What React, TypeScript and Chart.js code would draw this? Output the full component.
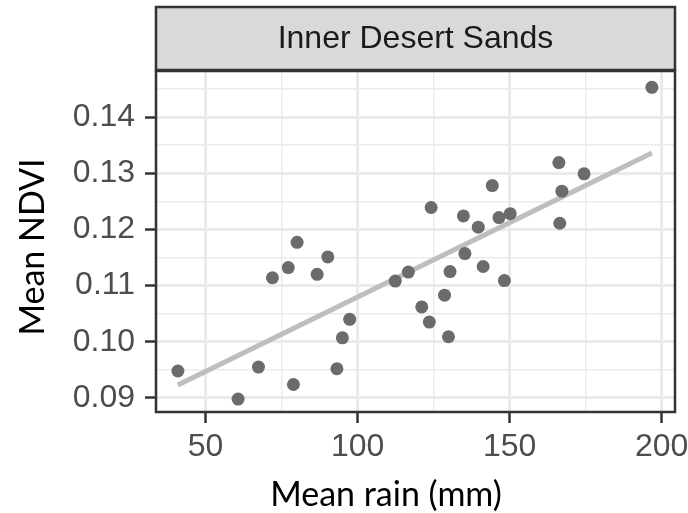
import React, { useEffect, useRef } from 'react';
import { Chart, registerables } from 'chart.js';

Chart.register(...registerables);

const panelTitle = 'Inner Desert Sands';
const xTitle = 'Mean rain (mm)';
const yTitle = 'Mean NDVI';

const rain = [40.9, 60.7, 67.4, 78.9, 72.0, 77.2, 80.1, 86.7, 90.2, 93.2, 95.0, 97.4, 112.4, 116.7, 121.1, 123.6, 124.2, 128.6, 129.9, 130.4, 134.8, 135.3, 139.7, 141.3, 144.3, 146.5, 148.3, 150.2, 166.2, 167.2, 166.5, 174.5, 196.8];
const ndvi = [0.0948, 0.0898, 0.0955, 0.0924, 0.1114, 0.1132, 0.1177, 0.1120, 0.1151, 0.0952, 0.1007, 0.1040, 0.1108, 0.1124, 0.1062, 0.1035, 0.1239, 0.1083, 0.1009, 0.1125, 0.1224, 0.1157, 0.1204, 0.1134, 0.1278, 0.1221, 0.1109, 0.1228, 0.1319, 0.1268, 0.1211, 0.1299, 0.1453];

const fitRain = [40.9, 196.8];
const fitNdvi = [0.0923, 0.1336];

const xMajorTicks = [50, 100, 150, 200];
const xMinorTicks = [75, 125, 175];
const yMajorTicks = [0.09, 0.1, 0.11, 0.12, 0.13, 0.14];
const yMinorTicks = [0.095, 0.105, 0.115, 0.125, 0.135, 0.145];
const xRange = [33.7, 204.4];
const yRange = [0.0875, 0.1482];

const isIn = (arr: number[], v: number) => arr.some((m) => Math.abs(m - v) < 1e-9);

const facetPlugin = {
  id: 'facetDecor',
  afterDraw(chart: any) {
    const { ctx, chartArea: a } = chart;
    ctx.save();
    const dark = '#333333';
    ctx.lineWidth = 2.5;
    ctx.strokeStyle = dark;
    ctx.strokeRect(a.left, a.top, a.right - a.left, a.bottom - a.top);
    const stripTop = 7;
    const stripBottom = a.top - 1;
    ctx.fillStyle = '#D9D9D9';
    ctx.fillRect(a.left, stripTop, a.right - a.left, stripBottom - stripTop);
    ctx.strokeRect(a.left, stripTop, a.right - a.left, stripBottom - stripTop);
    ctx.fillStyle = '#1A1A1A';
    ctx.font = '32px "Liberation Sans", Arial, sans-serif';
    ctx.textAlign = 'center';
    ctx.textBaseline = 'middle';
    ctx.fillText(panelTitle, (a.left + a.right) / 2, (stripTop + stripBottom) / 2 + 1);

    ctx.fillStyle = '#000000';
    ctx.font = '34px Lato, "Open Sans", sans-serif';
    ctx.fillText(xTitle, 386, 495);
    ctx.translate(33, 247);
    ctx.rotate(-Math.PI / 2);
    ctx.fillText(yTitle, 0, 0);
    ctx.restore();
  },
};

export default function App() {
  const ref = useRef<HTMLCanvasElement | null>(null);
  useEffect(() => {
    document.body.style.margin = '0';
    const canvas = ref.current;
    if (!canvas) return;
    const tickFont = { family: '"Liberation Sans", Arial, sans-serif', size: 32 };
    const chart = new Chart(canvas, {
      type: 'scatter',
      data: {
        datasets: [
          {
            data: rain.map((x, i) => ({ x, y: ndvi[i] })),
            pointRadius: 6.5,
            pointBackgroundColor: '#6B6B6B',
            pointBorderWidth: 0,
            pointHoverRadius: 6.5,
            order: 0,
          },
          {
            type: 'line',
            data: fitRain.map((x, i) => ({ x, y: fitNdvi[i] })),
            borderColor: '#BEBEBE',
            borderWidth: 5,
            pointRadius: 0,
            showLine: true,
            fill: false,
            order: 1,
          } as any,
        ],
      },
      options: {
        responsive: false,
        animation: false,
        devicePixelRatio: 1,
        events: [],
        layout: { padding: { top: 71, right: 13, left: 0, bottom: 0 } },
        plugins: { legend: { display: false }, tooltip: { enabled: false }, title: { display: false } },
        scales: {
          x: {
            type: 'linear',
            min: xRange[0],
            max: xRange[1],
            afterBuildTicks: (s: any) => {
              s.ticks = [...xMajorTicks, ...xMinorTicks].sort((p, q) => p - q).map((v) => ({ value: v }));
            },
            afterFit: (s: any) => {
              s.height = 101;
              s.paddingLeft = 0;
              s.paddingRight = 0;
            },
            ticks: {
              autoSkip: false,
              maxRotation: 0,
              padding: 5,
              color: '#4D4D4D',
              font: tickFont,
              callback: (v: any) => (isIn(xMajorTicks, v) ? String(v) : ''),
            },
            grid: {
              color: '#EBEBEB',
              lineWidth: (c: any) => (isIn(xMajorTicks, c.tick?.value) ? 3 : 1.4),
              tickColor: (c: any) => (isIn(xMajorTicks, c.tick?.value) ? '#333333' : 'rgba(0,0,0,0)'),
              tickLength: 11,
              tickWidth: 2.5,
            },
            border: { display: false },
          },
          y: {
            type: 'linear',
            min: yRange[0],
            max: yRange[1],
            afterBuildTicks: (s: any) => {
              s.ticks = [...yMajorTicks, ...yMinorTicks].sort((p, q) => p - q).map((v) => ({ value: v }));
            },
            afterFit: (s: any) => {
              s.width = 156;
              s.paddingTop = 0;
              s.paddingBottom = 0;
            },
            ticks: {
              autoSkip: false,
              padding: 10,
              color: '#4D4D4D',
              font: tickFont,
              callback: (v: any) => (isIn(yMajorTicks, v) ? Number(v).toFixed(2) : ''),
            },
            grid: {
              color: '#EBEBEB',
              lineWidth: (c: any) => (isIn(yMajorTicks, c.tick?.value) ? 3 : 1.4),
              tickColor: (c: any) => (isIn(yMajorTicks, c.tick?.value) ? '#333333' : 'rgba(0,0,0,0)'),
              tickLength: 11,
              tickWidth: 2.5,
            },
            border: { display: false },
          },
        },
      },
      plugins: [facetPlugin],
    });
    return () => chart.destroy();
  }, []);
  return (
    <div style={{ width: 688, height: 513 }}>
      <canvas ref={ref} width={688} height={513} style={{ width: 688, height: 513, display: 'block' }} />
    </div>
  );
}
